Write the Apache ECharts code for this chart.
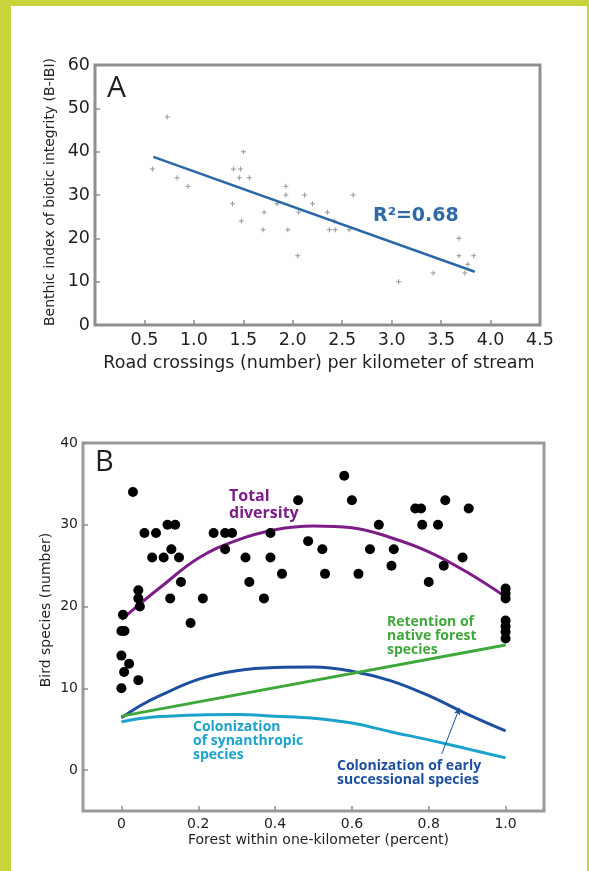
<!DOCTYPE html>
<html><head><meta charset="utf-8">
<script src="https://cdn.jsdelivr.net/npm/echarts@6/dist/echarts.min.js"></script>
<style>
html,body{margin:0;padding:0;background:#c9d33c;}
#frame{position:relative;width:589px;height:871px;background:#c9d33c;overflow:hidden;}
#chart{position:absolute;left:11px;top:6px;width:576px;height:865px;background:#fff;}
</style></head><body>
<div id="frame"><div id="chart"></div></div>
<script>
// ---- Panel A data ----
const roadX = [0.73,0.58,0.83,0.94,1.40,1.47,1.50,1.46,1.56,1.39,1.48,1.71,1.70,1.84,1.93,1.93,1.95,2.06,2.12,2.20,2.05,2.61,2.35,2.42,2.37,2.43,2.57,3.68,3.68,3.83,3.77,3.74,3.42,3.07];
const bibiY = [48,36,34,32,36,36,40,34,34,28,24,26,22,28,32,30,22,26,30,28,16,30,26,24,22,22,22,20,16,16,14,12,12,10];
const fitX = [0.59, 3.84];
const fitY = [38.8, 12.3];
const aXTicks = [0,0.5,1.0,1.5,2.0,2.5,3.0,3.5,4.0,4.5];
const aYTicks = [0,10,20,30,40,50,60];

// ---- Panel B data ----
const forestX = [0.03,0.06,0.09,0.12,0.14,0.08,0.11,0.13,0.15,0.155,0.127,0.044,0.044,0.048,0.004,0,0.008,0,0.02,0.007,0.044,0,0.18,0.212,0.24,0.27,0.288,0.27,0.323,0.333,0.371,0.388,0.388,0.418,0.46,0.486,0.58,0.60,0.523,0.53,0.617,0.647,0.67,0.709,0.703,0.765,0.78,0.843,0.904,0.783,0.824,0.888,0.839,0.80,1,1,1,1,1,1,1];
const birdY = [34,29,29,30,30,26,26,27,26,23,21,22,21,20,19,17,17,14,13,12,11,10,18,21,29,29,29,27,26,23,21,29,26,24,33,28,36,33,27,24,24,27,30,27,25,32,32,33,32,30,30,26,25,23,22.2,21.6,21,18.3,17.6,16.9,16.1];
const curveX = [0,0.05,0.1,0.2,0.3,0.4,0.5,0.6,0.7,0.8,0.9,1.0];
const totalY = [18.4,20.4,22.3,25.9,28.1,29.4,29.85,29.65,28.45,26.7,24.2,21.2];
const earlyY = [6.4,7.9,9.1,11.1,12.15,12.55,12.6,12.1,10.95,9.1,6.85,4.8];
const synY = [5.9,6.3,6.55,6.75,6.8,6.6,6.35,5.75,4.7,3.7,2.6,1.5];
const retentionX = [0,1.0];
const retentionY = [6.6,15.3];
const arrowX = [0.834, 0.88];
const arrowY = [2.0, 7.6];
const bXTicks = [0,0.2,0.4,0.6,0.8,1.0];
const bYTicks = [0,10,20,30,40];

const zip = (xs, ys) => xs.map((x, i) => [x, ys[i]]);
const TXT = '#231f20';
const AXF = 'DejaVu Sans';

const chart = echarts.init(document.getElementById('chart'), null, {renderer: 'canvas'});
const tickStyle = {show: true, inside: true, length: 5, lineStyle: {color: '#8f8f8f', width: 1.5}};

chart.setOption({
  animation: false,
  backgroundColor: '#fff',
  grid: [
    {left: 84, top: 59, width: 445, height: 260, show: true, borderColor: '#8f8f8f', borderWidth: 3, backgroundColor: 'transparent'},
    {left: 72, top: 437, width: 461, height: 368, show: true, borderColor: '#9a9a9a', borderWidth: 3, backgroundColor: 'transparent'}
  ],
  xAxis: [
    {type: 'value', gridIndex: 0, min: 0, max: 4.5, interval: 0.5, z: 3,
     axisLine: {show: false, onZero: false}, splitLine: {show: false}, axisTick: tickStyle,
     axisLabel: {margin: 6, color: TXT, fontFamily: AXF, fontSize: 17.5,
       formatter: v => v === 0 ? '' : v.toFixed(1)}},
    {type: 'value', gridIndex: 1, min: -0.1, max: 1.1, z: 3,
     axisLine: {show: false, onZero: false}, splitLine: {show: false},
     axisTick: Object.assign({customValues: bXTicks}, tickStyle),
     axisLabel: {customValues: bXTicks, margin: 6, color: TXT, fontFamily: AXF, fontSize: 14,
       formatter: v => v === 0 ? '0' : (Math.round(v * 10) / 10).toFixed(1)}}
  ],
  yAxis: [
    {type: 'value', gridIndex: 0, min: 0, max: 60, interval: 10, z: 3,
     axisLine: {show: false, onZero: false}, splitLine: {show: false}, axisTick: tickStyle,
     axisLabel: {margin: 5, color: TXT, fontFamily: AXF, fontSize: 17.5}},
    {type: 'value', gridIndex: 1, min: -5, max: 40, z: 3,
     axisLine: {show: false, onZero: false}, splitLine: {show: false},
     axisTick: Object.assign({customValues: bYTicks}, tickStyle),
     axisLabel: {customValues: bYTicks, margin: 5, color: TXT, fontFamily: AXF, fontSize: 14}}
  ],
  series: [
    {type: 'scatter', xAxisIndex: 0, yAxisIndex: 0, data: zip(roadX, bibiY),
     symbol: 'path://M2,0h1v5h-1z M0,2h5v1h-5z', symbolSize: 5,
     itemStyle: {color: '#7d7d7d'}, z: 2},
    {type: 'line', xAxisIndex: 0, yAxisIndex: 0, data: zip(fitX, fitY), symbol: 'none',
     lineStyle: {color: '#2a67a7', width: 2.5}, z: 3},
    {type: 'line', xAxisIndex: 1, yAxisIndex: 1, data: zip(curveX, totalY), symbol: 'none', smooth: 0.4,
     lineStyle: {color: '#7d1d88', width: 3}, z: 3},
    {type: 'line', xAxisIndex: 1, yAxisIndex: 1, data: zip(retentionX, retentionY), symbol: 'none',
     lineStyle: {color: '#3ea83a', width: 3}, z: 4},
    {type: 'line', xAxisIndex: 1, yAxisIndex: 1, data: zip(curveX, earlyY), symbol: 'none', smooth: 0.4,
     lineStyle: {color: '#1d4f9f', width: 3}, z: 3,
     markLine: {silent: true, symbol: ['none', 'arrow'], symbolSize: [5, 7], animation: false,
       label: {show: false}, lineStyle: {color: '#1d4f9f', width: 1, type: 'solid'},
       data: [[{coord: [arrowX[0], arrowY[0]]}, {coord: [arrowX[1], arrowY[1]]}]]}},
    {type: 'line', xAxisIndex: 1, yAxisIndex: 1, data: zip(curveX, synY), symbol: 'none', smooth: 0.4,
     lineStyle: {color: '#1ba3cc', width: 3}, z: 3},
    {type: 'scatter', xAxisIndex: 1, yAxisIndex: 1, data: zip(forestX, birdY),
     symbol: 'circle', symbolSize: 10, itemStyle: {color: '#000', opacity: 1}, z: 5}
  ],
  graphic: [
    {type: 'text', x: 96, y: 82, style: {text: 'A', font: '30px "Open Sans"', fill: TXT, verticalAlign: 'middle'}},
    {type: 'text', x: 362, y: 210, style: {text: 'R²=0.68', font: 'bold 19px "DejaVu Sans"', fill: '#2e6aa7', verticalAlign: 'middle'}},
    {type: 'text', x: 308, y: 357, style: {text: 'Road crossings (number) per kilometer of stream', font: '17.5px "DejaVu Sans"', fill: TXT, align: 'center', verticalAlign: 'middle'}},
    {type: 'text', x: 39, y: 186, rotation: Math.PI / 2, style: {text: 'Benthic index of biotic integrity (B-IBI)', font: '14px "DejaVu Sans"', fill: TXT, align: 'center', verticalAlign: 'middle'}},
    {type: 'text', x: 84, y: 457, style: {text: 'B', font: '29px "Open Sans"', fill: TXT, verticalAlign: 'middle'}},
    {type: 'text', x: 307.5, y: 834, style: {text: 'Forest within one-kilometer (percent)', font: '14px "DejaVu Sans"', fill: TXT, align: 'center', verticalAlign: 'middle'}},
    {type: 'text', x: 35, y: 604, rotation: Math.PI / 2, style: {text: 'Bird species (number)', font: '14px "DejaVu Sans"', fill: TXT, align: 'center', verticalAlign: 'middle'}},
    {type: 'text', x: 218, y: 482, style: {text: 'Total\ndiversity', font: 'bold 16px "Open Sans"', lineHeight: 17, fill: '#7d1d88', verticalAlign: 'top'}},
    {type: 'text', x: 376, y: 609, style: {text: 'Retention of\nnative forest\nspecies', font: 'bold 14px "Open Sans"', lineHeight: 14, fill: '#3ea83a', verticalAlign: 'top'}},
    {type: 'text', x: 182, y: 714, style: {text: 'Colonization\nof synanthropic\nspecies', font: 'bold 14px "Open Sans"', lineHeight: 14, fill: '#1ba3cc', verticalAlign: 'top'}},
    {type: 'text', x: 326, y: 753, style: {text: 'Colonization of early\nsuccessional species', font: 'bold 14px "Open Sans"', lineHeight: 14, fill: '#1d4f9f', verticalAlign: 'top'}}
  ]
});
</script></body></html>
